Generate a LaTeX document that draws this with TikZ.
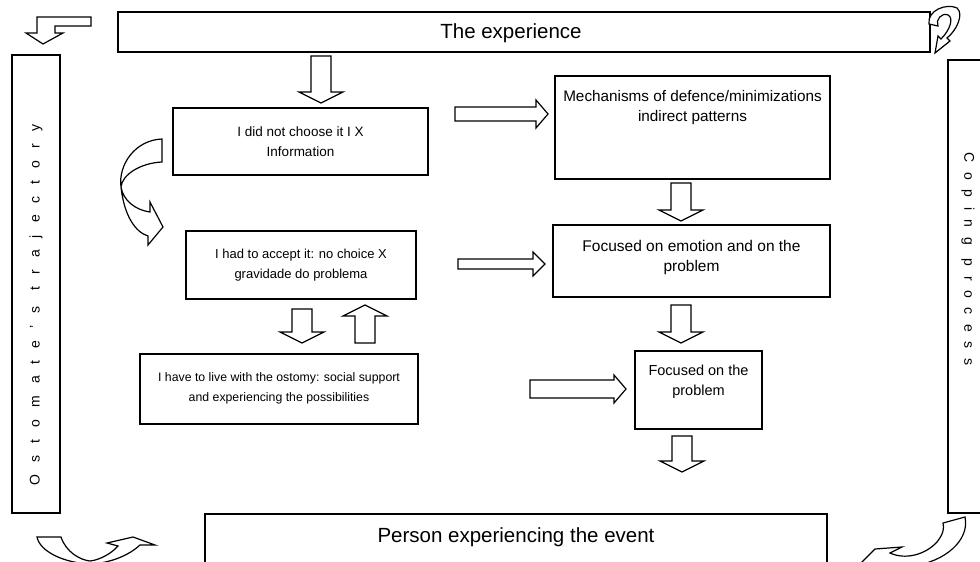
\documentclass[tikz,border=0pt]{standalone}
\usepackage{fontspec}
\setmainfont{Liberation Sans}
\newfontfamily\spacedL[LetterSpace=86]{Liberation Sans}
\newfontfamily\spacedR[LetterSpace=69]{Liberation Sans}
\newcommand\BAdown[3]{\draw[blk] ({#1-10},#2) -- ({#1+10},#2) -- ({#1+10},{#3-11}) -- ({#1+22},{#3-11}) -- (#1,#3) -- ({#1-22},{#3-11}) -- ({#1-10},{#3-11}) -- cycle;}
\newcommand\BAup[3]{\draw[blk] ({#1-10},#3) -- ({#1+10},#3) -- ({#1+10},{#2+11}) -- ({#1+22},{#2+11}) -- (#1,#2) -- ({#1-22},{#2+11}) -- ({#1-10},{#2+11}) -- cycle;}
\newcommand\BAright[5]{\draw[blk] (#1,{#3-#4}) -- ({#2-12},{#3-#4}) -- ({#2-12},{#3-#5}) -- (#2,#3) -- ({#2-12},{#3+#5}) -- ({#2-12},{#3+#4}) -- (#1,{#3+#4}) -- cycle;}
\tikzset{
  box/.style={draw, line width=1.2pt, inner sep=0pt, align=center},
  txt/.style={inner sep=0pt, align=center},
  blk/.style={draw, line width=1.2pt, fill=white, line join=miter},
}
\begin{document}
\begin{tikzpicture}[x=1pt,y=-1pt]
\useasboundingbox (0,0) rectangle (980,562);
\clip (0,0) rectangle (980,562);
% big frame boxes
\node[box, minimum width=812, minimum height=40] (exp) at (524,32) {};
\node[txt, font=\fontsize{20.5}{24}\selectfont] (expt) at (511,33) {The experience};
\node[box, minimum width=48, minimum height=458] (traj) at (36,284) {};
\node[rotate=90, inner sep=0pt, font=\spacedL\fontsize{14}{16}\selectfont] (trajt) at (36,305) {Ostomate’s trajectory};
\node[box, minimum width=44, minimum height=453] (cop) at (970,286.5) {};
\node[rotate=-90, inner sep=0pt, font=\spacedR\fontsize{14}{16}\selectfont] (copt) at (968,259) {Coping process};
\node[box, minimum width=622, minimum height=54] (pers) at (516,541) {};
\node[txt, font=\fontsize{20.5}{24}\selectfont] (perst) at (516,537) {Person experiencing the event};
% inner boxes
\node[box, minimum width=255, minimum height=67, font=\fontsize{13.5}{20}\selectfont] (b1) at (300.5,141.5) {I did not choose it I X\\Information};
\node[box, minimum width=275, minimum height=103] (mech) at (692.5,127.5) {};
\node[txt, anchor=north, font=\fontsize{15.3}{20}\selectfont] (mecht) at (692.5,90) {Mechanisms of defence/minimizations\\indirect patterns};
\node[box, minimum width=230, minimum height=68, font=\fontsize{13}{19.5}\selectfont] (acc) at (301,265) {I had to accept it: no choice X\\gravidade do problema};
\node[box, minimum width=277, minimum height=72] (emo) at (691.5,261) {};
\node[txt, anchor=north, font=\fontsize{15.5}{20}\selectfont] (emot) at (691.5,240) {Focused on emotion and on the\\problem};
\node[box, minimum width=278, minimum height=70] (live) at (279,389) {};
\node[txt, font=\fontsize{12.3}{20}\selectfont] (livet) at (279,388) {I have to live with the ostomy: social support\\and experiencing the possibilities};
\node[box, minimum width=127, minimum height=78] (prob) at (698.5,390) {};
\node[txt, anchor=north, font=\fontsize{14.5}{20}\selectfont] (probt) at (698.5,365) {Focused on the\\problem};
% block arrows
\BAdown{321}{56}{103}
\BAright{455}{548}{114}{7}{14}
\BAdown{681}{183}{221}
\BAright{458}{545}{264}{5}{12}
\BAdown{681}{305}{343}
\BAdown{302}{309}{343}
\BAup{365}{305}{343}
\BAright{530}{626}{389}{9}{14}
\BAdown{682}{436}{472}
% top-left bent arrow
\draw[blk] (91,17) -- (37,17) -- (37,33) -- (26,33) -- (43,44) -- (63,33) -- (55,33) -- (55,26) -- (91,26) -- cycle;
% top-right curly arrow
\draw[blk] (929,24) .. controls (927,10) and (947,3) .. (957,8) .. controls (964,14) and (957,30) .. (947,38) -- (950,41) -- (935,53) -- (938,36) -- (941,39) .. controls (950,30) and (954,18) .. (948,15) .. controls (942,12) and (935,20) .. (938,26) -- cycle;
% left curved arrow between b1 and acc
\draw[blk] (162,139) .. controls (135,140) and (118,165) .. (121,187) .. controls (124,215) and (135,232) .. (148,236) -- (148,245) -- (163,227) -- (150,202) -- (150,212) .. controls (135,210) and (123,200) .. (121,187) .. controls (122,175) and (140,163) .. (162,162) -- cycle;
% bottom-left curved arrow
\draw[blk] (37,537) -- (61,537) .. controls (66,552) and (80,560) .. (90,561) .. controls (100,560) and (112,553) .. (118,546) -- (107,543) -- (133,537) -- (155,545) -- (140,545) .. controls (128,556) and (110,563) .. (90,564) .. controls (65,563) and (40,552) .. (37,537) -- cycle;
% bottom-right curved arrow
\draw[blk] (943,523) -- (965,517) .. controls (970,540) and (945,562) .. (912,566) -- (858,566) -- (875,549) -- (902,547) -- (890,553) .. controls (905,560) and (925,555) .. (937,542) .. controls (944,533) and (944,528) .. (943,523) -- cycle;
\end{tikzpicture}
\end{document}
